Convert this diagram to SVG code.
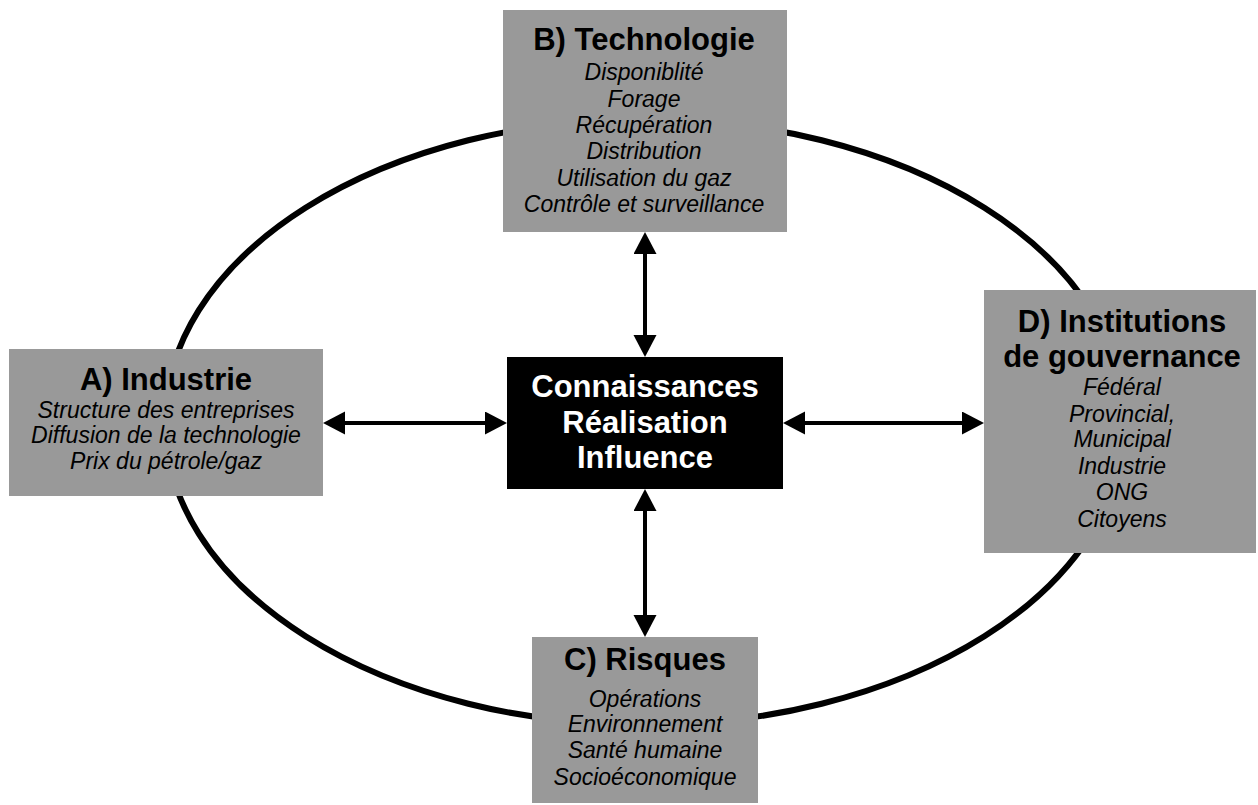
<svg xmlns="http://www.w3.org/2000/svg" width="1258" height="805" viewBox="0 0 1258 805">
<defs>
<style>
.box{fill:#999999;}
.core{fill:#000000;}
.t{font-family:"Liberation Sans",Arial,sans-serif;font-weight:bold;font-size:31px;fill:#000;text-anchor:middle;}
.tw{font-family:"Liberation Sans",Arial,sans-serif;font-weight:bold;font-size:31px;fill:#fff;text-anchor:middle;}
.i{font-family:"Liberation Sans",Arial,sans-serif;font-style:italic;font-size:23px;fill:#000;text-anchor:middle;}
.ring{fill:none;stroke:#000;stroke-width:6;}
.link{stroke:#000;stroke-width:4;fill:none;marker-start:url(#ah);marker-end:url(#ah);}
</style>
<marker id="ah" markerUnits="userSpaceOnUse" markerWidth="24" markerHeight="24" refX="2" refY="11.5" orient="auto-start-reverse">
<path d="M0,0 L22,11.5 L0,23 Z" fill="#000"/>
</marker>
</defs>
<rect width="1258" height="805" fill="#fff"/>
<g id="cycle">
<ellipse class="ring" cx="645" cy="422" rx="480" ry="303"/>
</g>
<g id="connectors">
<line class="link" x1="645" y1="252" x2="645" y2="337"/>
<line class="link" x1="645" y1="509" x2="645" y2="617"/>
<line class="link" x1="343" y1="423" x2="487" y2="423"/>
<line class="link" x1="803" y1="423" x2="964" y2="423"/>
</g>
<g id="node-B">
<rect class="box" x="503" y="10" width="284" height="222"/>
<text class="t" x="644" y="50">B) Technologie</text>
<text class="i" x="644" y="80">Disponiblité</text>
<text class="i" x="644" y="107">Forage</text>
<text class="i" x="644" y="133">Récupération</text>
<text class="i" x="644" y="159">Distribution</text>
<text class="i" x="644" y="186">Utilisation du gaz</text>
<text class="i" x="644" y="212">Contrôle et surveillance</text>
</g>
<g id="node-A">
<rect class="box" x="9" y="349" width="314" height="147"/>
<text class="t" x="166" y="390">A) Industrie</text>
<text class="i" x="166" y="418">Structure des entreprises</text>
<text class="i" x="166" y="443">Diffusion de la technologie</text>
<text class="i" x="166" y="469">Prix du pétrole/gaz</text>
</g>
<g id="node-center">
<rect class="core" x="507" y="357" width="276" height="132"/>
<text class="tw" x="645" y="397">Connaissances</text>
<text class="tw" x="645" y="433">Réalisation</text>
<text class="tw" x="645" y="468">Influence</text>
</g>
<g id="node-D">
<rect class="box" x="984" y="290" width="272" height="263"/>
<text class="t" x="1122" y="332">D) Institutions</text>
<text class="t" x="1122" y="367">de gouvernance</text>
<text class="i" x="1122" y="395">Fédéral</text>
<text class="i" x="1122" y="422">Provincial,</text>
<text class="i" x="1122" y="447">Municipal</text>
<text class="i" x="1122" y="474">Industrie</text>
<text class="i" x="1122" y="500">ONG</text>
<text class="i" x="1122" y="527">Citoyens</text>
</g>
<g id="node-C">
<rect class="box" x="532" y="637" width="226" height="166"/>
<text class="t" x="645" y="670">C) Risques</text>
<text class="i" x="645" y="707">Opérations</text>
<text class="i" x="645" y="732">Environnement</text>
<text class="i" x="645" y="758">Santé humaine</text>
<text class="i" x="645" y="785">Socioéconomique</text>
</g>
</svg>
